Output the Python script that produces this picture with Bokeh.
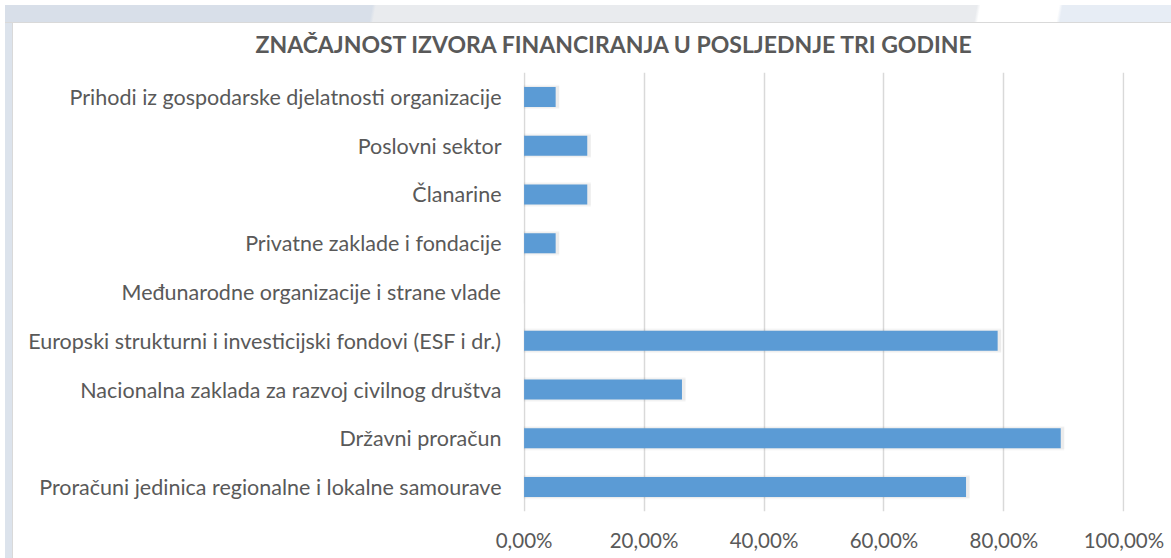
from bokeh.plotting import figure
from bokeh.models import FixedTicker, Div, Range1d
from bokeh.layouts import column
from bokeh.embed import file_html
from bokeh.resources import INLINE

categories = [
    "Prihodi iz gospodarske djelatnosti organizacije",
    "Poslovni sektor",
    "Članarine",
    "Privatne zaklade i fondacije",
    "Međunarodne organizacije i strane vlade",
    "Europski strukturni i investicijski fondovi (ESF i dr.)",
    "Nacionalna zaklada za razvoj civilnog društva",
    "Državni proračun",
    "Proračuni jedinica regionalne i lokalne samourave",
]
values = [5.26, 10.53, 10.53, 5.26, 0.0, 78.95, 26.32, 89.47, 73.68]
tick_values = [0, 20, 40, 60, 80, 100]
tick_labels = ["0,00%", "20,00%", "40,00%", "60,00%", "80,00%", "100,00%"]

FONT = "Lato"
TXT = "#595959"

p = figure(
    y_range=list(reversed(categories)),
    x_range=Range1d(-0.1, 100.1),
    width=1171, height=558,
    output_backend="svg", toolbar_location=None,
    min_border_left=523, min_border_right=47, min_border_top=72, min_border_bottom=47,
    border_fill_color="white", background_fill_color="white",
    outline_line_color=None,
)

# soft shadow behind bars
shadow_right = [v + 0.6 if v > 0 else 0 for v in values]
p.hbar(y=categories, right=shadow_right, left=-0.3, height=0.5, fill_color="#000000",
       fill_alpha=0.03, line_color=None)
p.hbar(y=categories, right=shadow_right, left=-0.1, height=0.45, fill_color="#000000",
       fill_alpha=0.045, line_color=None)
p.hbar(y=categories, right=values, left=0, height=0.41, fill_color="#5b9bd5", line_color=None)

p.title.text = "ZNAČAJNOST IZVORA FINANCIRANJA U POSLJEDNJE TRI GODINE"
p.title.text_font = FONT
p.title.text_font_size = "23px"
p.title.text_font_style = "bold"
p.title.text_color = TXT
p.title.align = "left"
p.title.offset = -268
p.title.standoff = 30

p.xaxis.ticker = FixedTicker(ticks=tick_values)
p.xaxis.major_label_overrides = {t: l for t, l in zip(tick_values, tick_labels)}
p.xaxis.axis_line_color = None
p.xaxis.major_tick_line_color = None
p.xaxis.minor_tick_line_color = None
p.xaxis.major_tick_out = 0
p.xaxis.major_tick_in = 0
p.xaxis.major_label_standoff = 16
p.xaxis.major_label_text_font = FONT
p.xaxis.major_label_text_font_size = "20.5px"
p.xaxis.major_label_text_color = TXT

p.yaxis.axis_line_color = None
p.yaxis.major_tick_line_color = None
p.yaxis.minor_tick_line_color = None
p.yaxis.major_tick_out = 0
p.yaxis.major_tick_in = 0
p.yaxis.major_label_standoff = 22
p.yaxis.major_label_text_font = FONT
p.yaxis.major_label_text_font_size = "21.5px"
p.yaxis.major_label_text_color = TXT

p.xgrid.grid_line_color = "#d9d9d9"
p.xgrid.grid_line_width = 1.5
p.ygrid.grid_line_color = None

top_strip = Div(width=1171, height=18, styles={
    "position": "fixed", "top": "0px", "left": "0px", "z-index": "10",
    "border-bottom": "1px solid #d9d9d9",
    "background": "linear-gradient(100deg, #d8dfe9 0%, #d8dfe9 31.3%, #e9ebee 31.6%, #e9ebee 82.8%, #ffffff 83.1%, #ffffff 89.8%, #e7edf5 90.1%)",
})
left_strip = Div(width=8, height=558, styles={
    "position": "fixed", "top": "0px", "left": "0px", "z-index": "9",
    "border-right": "1px solid #d9d9d9",
    "background": "#dce3ec",
})

layout = column(p, top_strip, left_strip, spacing=0)
open("out.html", "w").write(file_html(layout, INLINE))
